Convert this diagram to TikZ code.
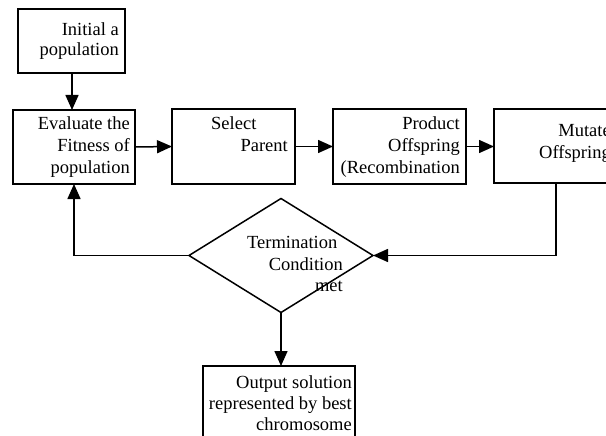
\documentclass[tikz,border=0pt]{standalone}
\usepackage{fontspec}
\setmainfont{Liberation Serif}
\usetikzlibrary{arrows.meta,shapes.geometric}
\begin{document}
\begin{tikzpicture}[x=1pt,y=-1pt,
  box/.style={draw,line width=1.6pt,rectangle,inner sep=0pt,outer sep=0pt},
  conn/.style={line width=1.5pt},
  arr/.style={conn,-{Triangle[length=15pt,width=13pt]}},
  txt/.style={inner sep=0pt,font=\fontsize{18.5}{21.5}\selectfont},
  tr/.style={txt,anchor=base east},
  tl/.style={txt,anchor=base west}]
\useasboundingbox (0,0) rectangle (606,436);
\clip (0,0) rectangle (606,436);
\fill[white] (0,0) rectangle (606,436);
% boxes
\node[box,minimum width=107pt,minimum height=64pt] (init) at (71.5,41) {};
\node[box,minimum width=122pt,minimum height=74pt] (eval) at (74,147) {};
\node[box,minimum width=123pt,minimum height=75pt] (sel) at (233.5,146.5) {};
\node[box,minimum width=133pt,minimum height=75pt] (prod) at (399.5,146.5) {};
\node[box,minimum width=146pt,minimum height=74pt] (mut) at (567,146) {};
\node[draw,line width=1.5pt,diamond,minimum width=184pt,minimum height=114pt,inner sep=0pt,outer sep=0pt] (diam) at (281,255.5) {};
\node[box,minimum width=152pt,minimum height=84pt] (out) at (279,408) {};
% texts
\node[tr] (ta1) at (119,36) {Initial a};
\node[tr] (ta2) at (119,56) {population};
\node[tr] (tb1) at (130,130) {Evaluate the};
\node[tr] (tb2) at (130,152) {Fitness of};
\node[tr] (tb3) at (130,173) {population};
\node[tl] (tc1) at (211,130) {Select};
\node[tr] (tc2) at (288,152) {Parent};
\node[tr] (td1) at (460,130) {Product};
\node[tr] (td2) at (460,152) {Offspring};
\node[tr] (td3) at (460,173) {(Recombination};
\node[tr] (te1) at (611,137) {Mutate};
\node[tr] (te2) at (611,159) {Offspring};
\node[tl] (tf1) at (247,248) {Termination};
\node[tr] (tf2) at (343,270) {Condition};
\node[tr] (tf3) at (343,291) {met};
\node[tr] (tg1) at (352,388) {Output solution};
\node[tr] (tg2) at (352,409) {represented by best};
\node[tr] (tg3) at (352,430) {chromosome};
% connectors
\coordinate (ix) at (72,0);
\coordinate (mx) at (556,0);
\draw[arr] (init.south -| ix) -- (eval.north -| ix);
\draw[arr] (eval.east) -- (sel.west);
\draw[arr] (sel.east) -- (prod.west);
\draw[arr] (prod.east) -- (mut.west |- prod.east);
\draw[arr] (mut.south -| mx) |- (diam.east);
\draw[arr] (diam.west) -| (eval.south);
\draw[arr] (diam.south) -- (diam.south |- out.north);
\end{tikzpicture}
\end{document}
